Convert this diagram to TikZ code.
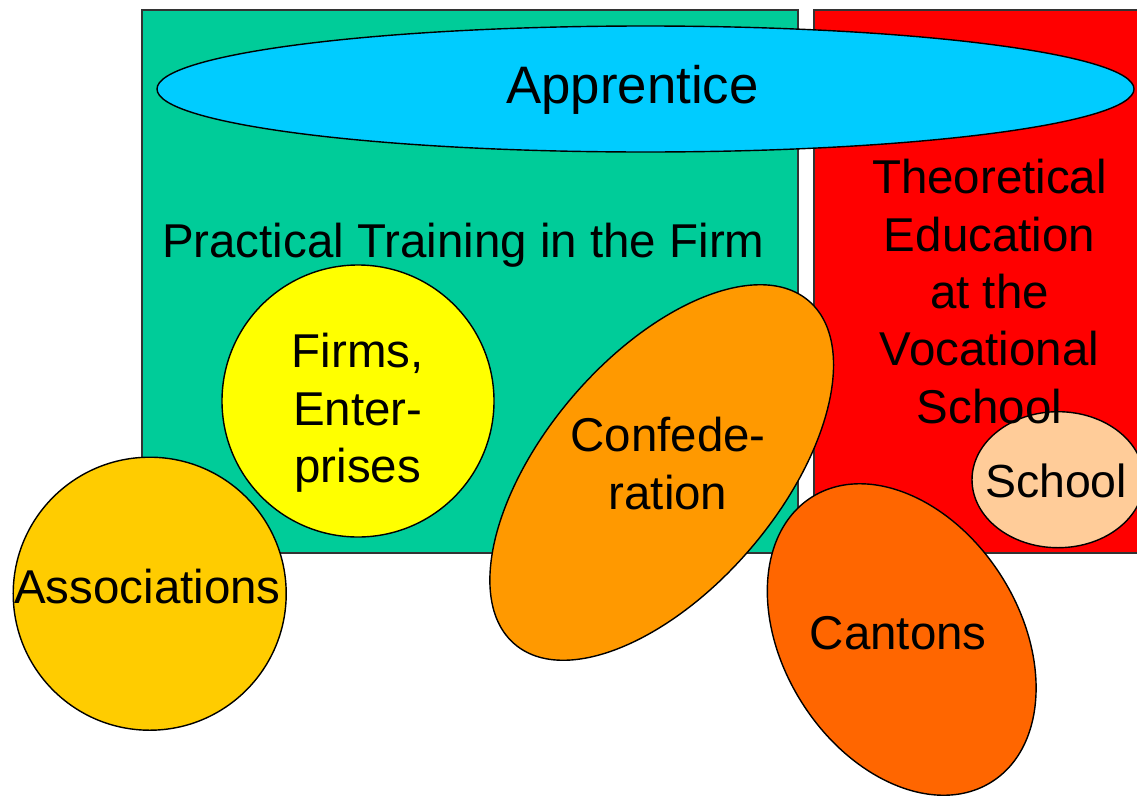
\documentclass[tikz,border=0pt]{standalone}
\usepackage{fontspec}
\setmainfont{Liberation Sans}
\usepackage{tikz}

\definecolor{firmgreen}{HTML}{00CC99}
\definecolor{schoolred}{HTML}{FF0000}
\definecolor{apprcyan}{HTML}{00CCFF}
\definecolor{firmyellow}{HTML}{FFFF00}
\definecolor{assocgold}{HTML}{FFCC00}
\definecolor{confedorange}{HTML}{FF9900}
\definecolor{cantonorange}{HTML}{FF6600}
\definecolor{schoolpeach}{HTML}{FFCC99}

\begin{document}
\begin{tikzpicture}[x=0.01cm, y=0.01cm,
    box/.style={draw=black!80, line width=0.45pt},
    blob/.style={draw=black, line width=0.4pt},
    lbl/.style={inner sep=0pt, align=center, font=\fontsize{13.5}{16.3}\selectfont}]
        \useasboundingbox (0,0) rectangle (1137,796);

        % Practical training block
        \filldraw[box, fill=firmgreen] (142,243) rectangle (798,786);

        % Vocational school block
        \filldraw[box, fill=schoolred] (814,243) rectangle (1142,786);

        % Apprentice
        \filldraw[blob, fill=apprcyan] (645.5,707) ellipse [x radius=488.5, y radius=63];
        \node[lbl, anchor=base, font=\fontsize{15}{18}\selectfont] (apprentice) at (632.5,692.7) {Apprentice};

        % Block titles
        \node[lbl, anchor=base] (practical) at (463.3,538.7) {Practical Training in the Firm};

        % Firms
        \filldraw[blob, fill=firmyellow] (358,395) circle (136);
        \node[lbl] (firms) at (357.7,383.2) {Firms,\\Enter-\\prises};

        % Associations
        \filldraw[blob, fill=assocgold] (149.7,202.3) circle (136.5);
        \node[lbl, anchor=base] (assoc) at (147.5,193) {Associations};

        % Confederation
        \filldraw[blob, fill=confedorange, rotate around={49.4:(661.7,323.5)}] (661.7,323.5) ellipse [x radius=226, y radius=117];
        \node[lbl] (confed) at (668,332.5) {Confede-\\ration};

        % School
        \filldraw[blob, fill=schoolpeach] (1058,316.3) ellipse [x radius=86, y radius=68];
        \node[lbl, anchor=base, font=\fontsize{13.2}{16}\selectfont] (school) at (1056,298.7) {School};
        \node[lbl] (theory) at (989.5,504.5) {Theoretical\\Education\\at the\\Vocational\\School};

        % Cantons
        \filldraw[blob, fill=cantonorange, rotate around={-57.7:(901.7,156.5)}] (901.7,156.5) ellipse [x radius=168.4, y radius=118.1];
        \node[lbl, anchor=base] (cantons) at (898.3,147) {Cantons};
    \end{tikzpicture}
\end{document}
